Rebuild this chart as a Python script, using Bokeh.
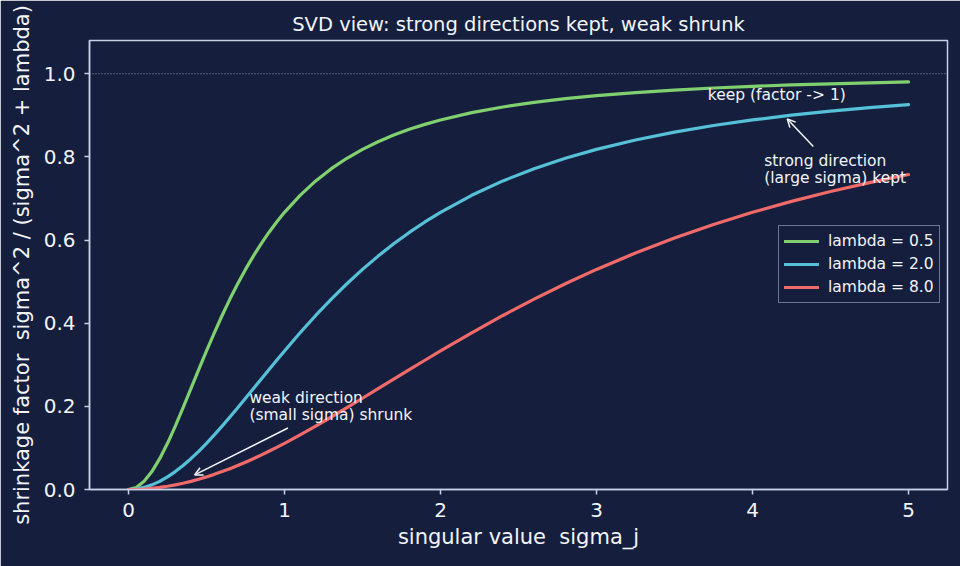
from bokeh.plotting import figure
from bokeh.models import (ColumnDataSource, Range1d, FixedTicker, PrintfTickFormatter,
                          Span, Label, Arrow, OpenHead)
from bokeh.embed import file_html
from bokeh.resources import INLINE

# ---------------- data ----------------
sigma = [0.0, 0.05, 0.1, 0.15, 0.2, 0.25, 0.3, 0.35, 0.4, 0.45, 0.5,
         0.55, 0.6, 0.65, 0.7, 0.75, 0.8, 0.85, 0.9, 0.95, 1.0,
         1.1, 1.2, 1.3, 1.4, 1.5, 1.6, 1.7, 1.8, 1.9, 2.0,
         2.2, 2.4, 2.6, 2.8, 3.0,
         3.25, 3.5, 3.75, 4.0, 4.25, 4.5, 4.75, 5.0]

factor_lam_05 = [0.0, 0.0050, 0.0196, 0.0431, 0.0741, 0.1111, 0.1525, 0.1968, 0.2424, 0.2883, 0.3333,
                 0.3769, 0.4186, 0.4580, 0.4949, 0.5294, 0.5614, 0.5910, 0.6183, 0.6435, 0.6667,
                 0.7076, 0.7423, 0.7717, 0.7967, 0.8182, 0.8366, 0.8525, 0.8663, 0.8783, 0.8889,
                 0.9064, 0.9201, 0.9311, 0.9400, 0.9474,
                 0.9548, 0.9608, 0.9657, 0.9697, 0.9731, 0.9759, 0.9783, 0.9804]

factor_lam_2 = [0.0, 0.0012, 0.0050, 0.0111, 0.0196, 0.0303, 0.0431, 0.0577, 0.0741, 0.0919, 0.1111,
                0.1314, 0.1525, 0.1744, 0.1968, 0.2195, 0.2424, 0.2654, 0.2883, 0.3109, 0.3333,
                0.3769, 0.4186, 0.4580, 0.4949, 0.5294, 0.5614, 0.5910, 0.6183, 0.6435, 0.6667,
                0.7076, 0.7423, 0.7717, 0.7967, 0.8182,
                0.8408, 0.8596, 0.8755, 0.8889, 0.9003, 0.9101, 0.9186, 0.9259]

factor_lam_8 = [0.0, 0.0003, 0.0012, 0.0028, 0.0050, 0.0078, 0.0111, 0.0151, 0.0196, 0.0247, 0.0303,
                0.0364, 0.0431, 0.0502, 0.0577, 0.0657, 0.0741, 0.0828, 0.0919, 0.1014, 0.1111,
                0.1314, 0.1525, 0.1744, 0.1968, 0.2195, 0.2424, 0.2654, 0.2883, 0.3109, 0.3333,
                0.3769, 0.4186, 0.4580, 0.4949, 0.5294,
                0.5690, 0.6049, 0.6374, 0.6667, 0.6930, 0.7168, 0.7382, 0.7576]

series_labels = ["lambda = 0.5", "lambda = 2.0", "lambda = 8.0"]
x_ticks = [0, 1, 2, 3, 4, 5]
y_ticks = [0.0, 0.2, 0.4, 0.6, 0.8, 1.0]

# ---------------- style ----------------
BG = "#151f3d"
FG = "#c8d0e8"
TXT = "#f2f4fa"
COLORS = ["#80d070", "#56c0d8", "#f06a6a"]
FONT = "DejaVu Sans"

p = figure(width=960, height=566, output_backend="svg", toolbar_location=None,
           x_range=Range1d(-0.25, 5.25), y_range=Range1d(0, 1.08),
           min_border_left=89, min_border_right=13, min_border_top=40, min_border_bottom=77,
           background_fill_color=BG, border_fill_color=BG,
           title="SVD view: strong directions kept, weak shrunk")

p.title.align = "center"
p.title.text_color = TXT
p.title.text_font = FONT
p.title.text_font_size = "19.5px"
p.title.text_font_style = "normal"
p.title.standoff = 10

p.outline_line_color = FG
p.outline_line_width = 1.5
p.xgrid.visible = False
p.ygrid.visible = False

for ax in (p.xaxis[0], p.yaxis[0]):
    ax.axis_line_color = FG
    ax.axis_line_width = 1.5
    ax.major_tick_line_color = FG
    ax.major_tick_line_width = 1.5
    ax.major_tick_out = 5
    ax.major_tick_in = 0
    ax.minor_tick_line_color = None
    ax.major_label_text_color = TXT
    ax.major_label_text_font = FONT
    ax.major_label_text_font_size = "20px"
    ax.axis_label_text_color = TXT
    ax.axis_label_text_font = FONT
    ax.axis_label_text_font_size = "21px"
    ax.axis_label_text_font_style = "normal"

p.xaxis[0].ticker = FixedTicker(ticks=x_ticks)
p.yaxis[0].ticker = FixedTicker(ticks=y_ticks)
p.yaxis[0].formatter = PrintfTickFormatter(format="%.1f")
p.xaxis[0].axis_label = "singular value \u00a0sigma_j"
p.yaxis[0].axis_label = "shrinkage factor \u00a0sigma^2 / (sigma^2 + lambda)"
p.xaxis[0].major_label_standoff = 8
p.yaxis[0].major_label_standoff = 9
p.xaxis[0].axis_label_standoff = 5
p.yaxis[0].axis_label_standoff = 7

# reference line at 1
p.add_layout(Span(location=1.0, dimension="width", line_color="#aab2cc",
                  line_width=1, line_dash="1 2", line_alpha=0.9))

src = ColumnDataSource(dict(sigma=sigma, l05=factor_lam_05, l2=factor_lam_2, l8=factor_lam_8))
for col, color, lab in zip(["l05", "l2", "l8"], COLORS, series_labels):
    p.line("sigma", col, source=src, line_color=color, line_width=3.2,
           line_join="round", line_cap="round", legend_label=lab)

# legend
lg = p.legend[0]
lg.location = (689, 186)
lg.background_fill_color = BG
lg.background_fill_alpha = 0.9
lg.border_line_color = FG
lg.border_line_width = 1.2
lg.label_text_color = TXT
lg.label_text_font = FONT
lg.label_text_font_size = "15.5px"
lg.glyph_width = 35
lg.glyph_height = 20
lg.label_height = 20
lg.label_standoff = 9
lg.spacing = 3
lg.padding = 5
lg.margin = 0

# annotations
ann_font = dict(text_color=TXT, text_font=FONT, text_font_size="15.5px",
                text_baseline="middle", text_align="left")
p.add_layout(Label(x=3.713, y=0.950, text="keep (factor -> 1)", **ann_font))
p.add_layout(Label(x=4.075, y=0.791, text="strong direction", **ann_font))
p.add_layout(Label(x=4.075, y=0.749, text="(large sigma) kept", **ann_font))
p.add_layout(Label(x=0.775, y=0.221, text="weak direction", **ann_font))
p.add_layout(Label(x=0.775, y=0.180, text="(small sigma) shrunk", **ann_font))

p.add_layout(Arrow(x_start=4.39, y_start=0.825, x_end=4.223, y_end=0.891,
                   line_color=TXT, line_width=1.5,
                   end=OpenHead(size=8, line_color=TXT, line_width=1.5)))
p.add_layout(Arrow(x_start=1.022, y_start=0.148, x_end=0.424, y_end=0.035,
                   line_color=TXT, line_width=1.5,
                   end=OpenHead(size=8, line_color=TXT, line_width=1.5)))

open("out.html", "w").write(file_html(p, INLINE))
